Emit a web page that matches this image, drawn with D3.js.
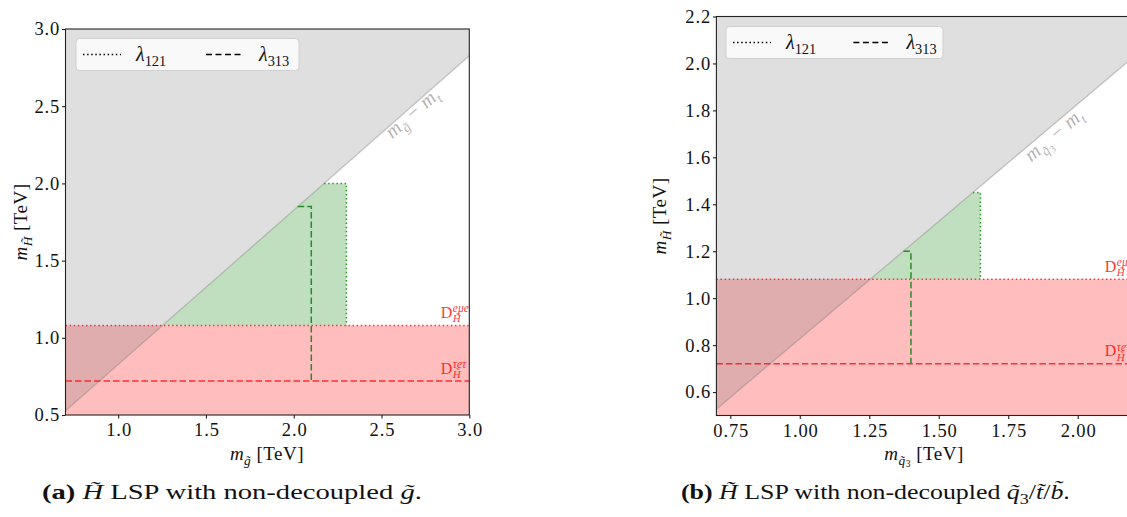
<!DOCTYPE html>
<html><head><meta charset="utf-8">
<script src="https://cdn.jsdelivr.net/npm/d3@7"></script>
<style>
html,body{margin:0;padding:0;background:#fff;}
svg{display:block;}
text{font-family:"Liberation Serif","DejaVu Serif",serif;}
</style></head>
<body>
<svg id="fig" width="1127" height="517"></svg>
<script>
// ---------------- data ----------------
const panelIds = ["a", "b"];
const xDomains = [[0.7, 3.0], [0.7, 2.2]];
const yDomains = [[0.5, 3.0], [0.5, 2.2]];
const xTickVals = [[1.0, 1.5, 2.0, 2.5, 3.0], [0.75, 1.0, 1.25, 1.5, 1.75, 2.0]];
const yTickVals = [[0.5, 1.0, 1.5, 2.0, 2.5, 3.0], [0.6, 0.8, 1.0, 1.2, 1.4, 1.6, 1.8, 2.0, 2.2]];
const xTickFormats = [".1f", ".2f"];
const yTickFormats = [".1f", ".1f"];
const topMass = 0.173;                              // m_t [TeV]
const lambda121Edge = [[2.3, 2.0], [1.65, 1.45]];   // [m_sparticle, m_H] corner
const lambda313Edge = [[2.1, 1.85], [1.4, 1.2]];
const dEmuE = [1.08, 1.08];                          // D_H^{e mu e} bound
const dTauETau = [0.72, 0.72];                       // D_H^{tau e tau} bound
const legendLabels = ["121", "313"];

// ---------------- layout (not data) ----------------
const layout = [
  {x0: 65.5, x1: 469.3, y0: 415, y1: 29, ylabX: 27, capX: 42, capW: 380, xlabC: 267,
   diagLab: [2.70, 2.425], leg: {x: 76, y: 38.5, w: 223, h: 32}},
  {x0: 716.4, x1: 1133.3, y0: 415.5, y1: 16.5, ylabX: 666, capX: 681, capW: 389, xlabC: 924,
   diagLab: [1.93, 1.675], leg: {x: 726, y: 26.5, w: 217, h: 32}}
];

const svg = d3.select("#fig");

function rich(g, x, y, parts, base, attrs) {
  const t = g.append("text").attr("x", x).attr("y", y).attr("font-size", base);
  if (attrs) Object.entries(attrs).forEach(([k, v]) => t.attr(k, v));
  let prev = 0;
  parts.forEach(p => {
    const o = p[1] || {};
    const dy = o.dy || 0;
    const ts = t.append("tspan").text(p[0])
      .attr("font-size", base * (o.s || 1))
      .attr("dy", ((dy - prev) * base).toFixed(2));
    if (o.dx) ts.attr("dx", o.dx);
    if (o.i) ts.attr("font-style", "italic");
    if (o.b) ts.attr("font-weight", "bold");
    prev = dy;
  });
  return t;
}
function stretchTo(t, x0, w) {
  const bb = t.node().getBBox();
  const s = w / bb.width;
  t.attr("transform", `translate(${x0},0) scale(${s},1) translate(${-bb.x},0)`);
}

panelIds.forEach((id, k) => {
  const L = layout[k];
  const x = d3.scaleLinear().domain(xDomains[k]).range([L.x0, L.x1]);
  const y = d3.scaleLinear().domain(yDomains[k]).range([L.y0, L.y1]);
  const [xa, xb] = xDomains[k];
  const [ya, yb] = yDomains[k];
  const g = svg.append("g");
  const clipId = "clip" + id;
  g.append("clipPath").attr("id", clipId).append("rect")
    .attr("x", L.x0).attr("y", L.y1).attr("width", L.x1 - L.x0).attr("height", L.y0 - L.y1);
  const pg = g.append("g").attr("clip-path", `url(#${clipId})`);
  const line = d3.line().x(d => x(d[0])).y(d => y(d[1]));
  const diag = v => v + topMass; // x on diagonal for given m_H

  // red excluded band
  pg.append("path").attr("d", line([[xa, ya], [xb, ya], [xb, dEmuE[k]], [xa, dEmuE[k]]]) + "Z")
    .attr("fill", "rgba(255,0,0,0.26)");
  // green region
  const [gx, gy] = lambda121Edge[k];
  pg.append("path").attr("d", line([[diag(dEmuE[k]), dEmuE[k]], [diag(gy), gy], [gx, gy], [gx, dEmuE[k]]]) + "Z")
    .attr("fill", "rgba(0,128,0,0.25)");
  // kinematically forbidden (grey)
  pg.append("path").attr("d", line([[xa, xa - topMass], [xb, xb - topMass], [xb, yb], [xa, yb]]) + "Z")
    .attr("fill", "rgba(128,128,128,0.25)");
  pg.append("path").attr("d", line([[xa, xa - topMass], [xb, xb - topMass]]))
    .attr("fill", "none").attr("stroke", "rgba(128,128,128,0.4)").attr("stroke-width", 1.3);

  // red lines
  pg.append("path").attr("d", line([[xa, dEmuE[k]], [xb, dEmuE[k]]]))
    .attr("stroke", "rgba(255,0,0,0.75)").attr("stroke-width", 1.5).attr("stroke-dasharray", "1.5,2.6").attr("fill", "none");
  pg.append("path").attr("d", line([[xa, dTauETau[k]], [xb, dTauETau[k]]]))
    .attr("stroke", "rgba(255,0,0,0.75)").attr("stroke-width", 1.5).attr("stroke-dasharray", "6.5,3").attr("fill", "none");
  // green lines
  pg.append("path").attr("d", line([[diag(gy), gy], [gx, gy], [gx, dEmuE[k]]]))
    .attr("stroke", "#2a9a2a").attr("stroke-width", 1.5).attr("stroke-dasharray", "1.5,2.6").attr("fill", "none");
  const [dx3, dy3] = lambda313Edge[k];
  pg.append("path").attr("d", line([[diag(dy3), dy3], [dx3, dy3], [dx3, dTauETau[k]]]))
    .attr("stroke", "#2a8a2a").attr("stroke-width", 1.5).attr("stroke-dasharray", "6.5,3").attr("fill", "none");

  // D labels
  [[dEmuE[k], "eμe"], [dTauETau[k], "τeτ"]].forEach(([v, sup]) => {
    const bx = L.x1 - 28.5, by = y(v) - 7.5;
    const t = g.append("text").attr("x", bx).attr("y", by).attr("font-size", 16).attr("fill", "rgba(255,0,0,0.8)").text("D");
    const w = t.node().getComputedTextLength();
    g.append("text").attr("x", bx + w + 0.5).attr("y", by - 5.5).attr("font-size", 11.5).attr("font-style", "italic")
      .attr("fill", "rgba(255,0,0,0.8)").text(sup);
    g.append("text").attr("x", bx + w + 0.5).attr("y", by + 4.5).attr("font-size", 11).attr("font-style", "italic")
      .attr("fill", "rgba(255,0,0,0.8)").text("H\u0303");
  });

  // diagonal label
  const ang = -Math.atan((y(ya) - y(ya + 1)) / (x(xa + 1) - x(xa))) * 180 / Math.PI;
  const [lx, ly] = L.diagLab;
  const subParts = k === 0 ? [["g\u0303", {i: true, s: 0.68, dy: 0.25}]]
                           : [["q\u0303", {i: true, s: 0.68, dy: 0.25}], ["3", {s: 0.5, dy: 0.35}]];
  rich(g, 0, 0, [["m", {i: true}], ...subParts, [" − ", {dy: 0}], ["m", {i: true}], ["t", {i: true, s: 0.68, dy: 0.25}]], 20,
    {"text-anchor": "middle", fill: "rgba(128,128,128,0.6)", "letter-spacing": 0.6,
     transform: `translate(${x(lx)},${y(ly)}) rotate(${ang})`});

  // frame
  g.append("rect").attr("x", L.x0).attr("y", L.y1).attr("width", L.x1 - L.x0).attr("height", L.y0 - L.y1)
    .attr("fill", "none").attr("stroke", "#222").attr("stroke-width", 1.1);

  // axes
  const ax = g.append("g").attr("transform", `translate(0,${L.y0})`)
    .call(d3.axisBottom(x).tickValues(xTickVals[k]).tickFormat(d3.format(xTickFormats[k])).tickSize(3.5).tickPadding(4.5));
  const ay = g.append("g").attr("transform", `translate(${L.x0},0)`)
    .call(d3.axisLeft(y).tickValues(yTickVals[k]).tickFormat(d3.format(yTickFormats[k])).tickSize(3.5).tickPadding(1.8));
  [ax, ay].forEach(a => {
    a.select(".domain").remove();
    a.selectAll("text").attr("font-family", "Liberation Serif, DejaVu Serif, serif").attr("font-size", 18.5)
      .attr("letter-spacing", 0.9).attr("fill", "#111");
    a.selectAll("line").attr("stroke", "#222").attr("stroke-width", 1.1);
  });
  ax.selectAll("text").attr("dx", 0.45);

  // axis labels
  const xsub = k === 0 ? [["g\u0303", {i: true, s: 0.7, dy: 0.25}]]
                       : [["q\u0303", {i: true, s: 0.7, dy: 0.25}], ["3", {s: 0.5, dy: 0.38}]];
  rich(g, L.xlabC, 460,
    [["m", {i: true}], ...xsub, [" [TeV]", {dy: 0}]], 19, {"text-anchor": "middle", fill: "#111", "letter-spacing": 0.5});
  rich(g, 0, 0, [["m", {i: true}], ["H\u0303", {i: true, s: 0.7, dy: 0.25}], [" [TeV]", {dy: 0}]], 19,
    {"text-anchor": "middle", fill: "#111", "letter-spacing": 0.5,
     transform: `translate(${L.ylabX},${(L.y0 + L.y1) / 2}) rotate(-90)`});

  // legend
  const lg = L.leg;
  g.append("rect").attr("x", lg.x).attr("y", lg.y).attr("width", lg.w).attr("height", lg.h).attr("rx", 3.5)
    .attr("fill", "rgba(255,255,255,0.8)").attr("stroke", "rgba(200,200,200,0.8)").attr("stroke-width", 1);
  const ly0 = lg.y + lg.h / 2;
  const entries = [{dash: "1.5,2.6", off: 7}, {dash: "6,3.5", off: 130 * (k === 0 ? 1 : 0.98)}];
  entries.forEach((e, j) => {
    const sx = lg.x + e.off;
    g.append("line").attr("x1", sx).attr("x2", sx + 38).attr("y1", ly0).attr("y2", ly0)
      .attr("stroke", "#000").attr("stroke-width", 1.5).attr("stroke-dasharray", e.dash);
    rich(g, sx + 53, ly0 + 6, [["λ", {i: true}], [legendLabels[j], {s: 0.72, dy: 0.25}]], 20, {fill: "#111"});
  });

  // caption
  const capParts = [["(" + id + ")", {b: true}], [" ", {}], ["H\u0303", {i: true}], [" LSP with non-decoupled ", {}]];
  if (k === 0) capParts.push(["g\u0303", {i: true}], [".", {}]);
  else capParts.push(["q\u0303", {i: true}], ["3", {s: 0.7, dy: 0.25}], ["/", {dy: 0}], ["t\u0303", {i: true}], ["/", {}], ["b\u0303", {i: true}], [".", {}]);
  const cap = rich(g, 0, 499, capParts, 20, {fill: "#111"});
  stretchTo(cap, L.capX, L.capW);
});
</script>
</body></html>
